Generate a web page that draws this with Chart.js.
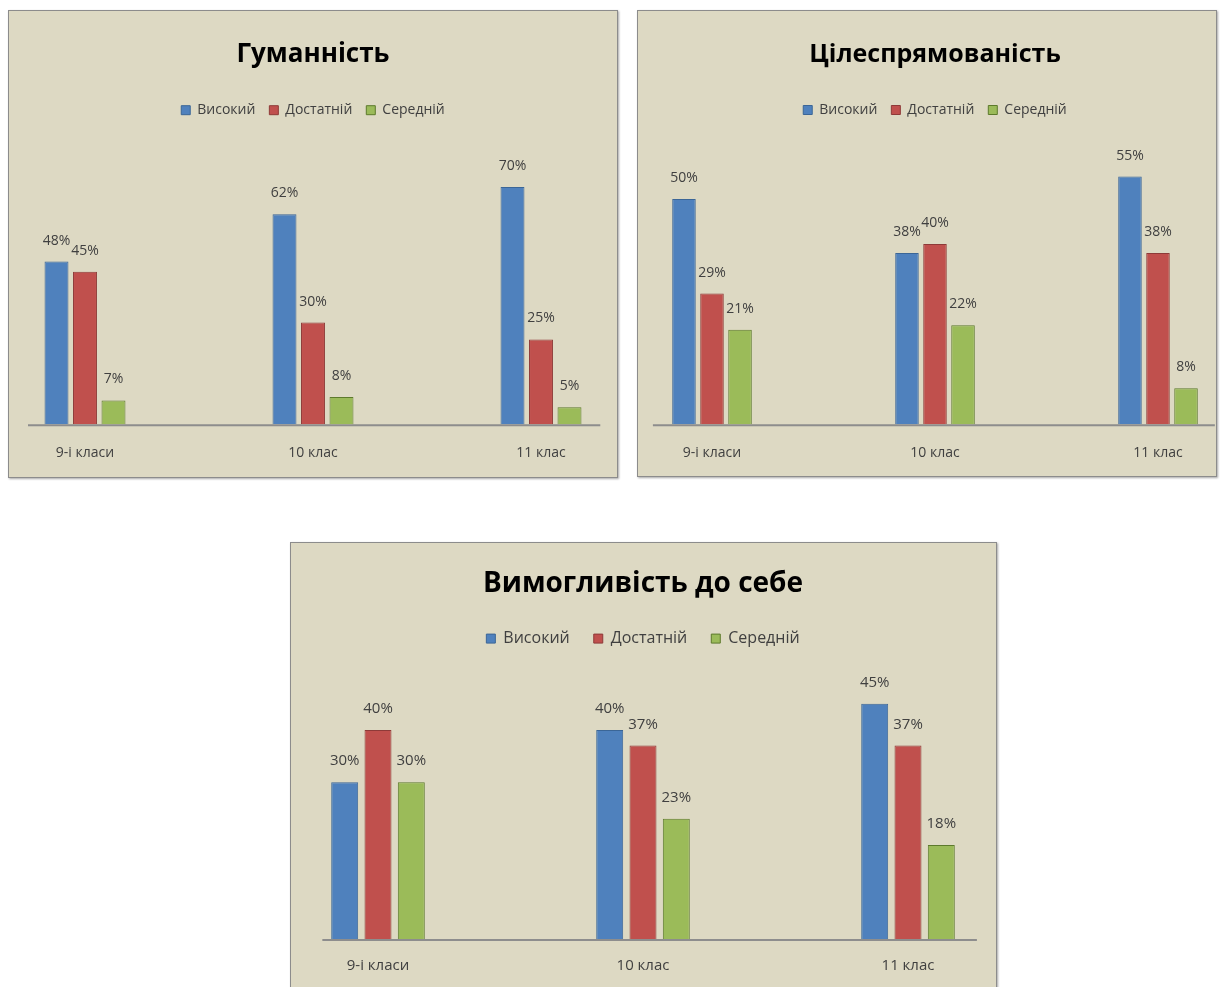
<!DOCTYPE html>
<html lang="uk">
<head>
<meta charset="utf-8">
<title>Гуманність, цілеспрямованість, вимогливість до себе</title>
<script src="https://cdn.jsdelivr.net/npm/chart.js@4"></script>
<style>
    html, body { margin: 0; padding: 0; background: #fff; width: 1220px; height: 987px; overflow: hidden; }
    body { position: relative; }
    .panel { position: absolute; background: #ddd9c3; border: 1px solid #8c8c8c; box-shadow: 1px 1px 2px rgba(0,0,0,0.35); }
    .panel canvas { display: block; }
    #p1 { left: 8px; top: 10px; width: 608px; height: 466px; }
    #p2 { left: 637px; top: 10px; width: 578px; height: 465px; }
    #p3 { left: 290px; top: 542px; width: 705px; height: 448px; }
</style>
</head>
<body>
<div class="panel" id="p1"><canvas id="chart1" width="608" height="466"></canvas></div>
<div class="panel" id="p2"><canvas id="chart2" width="578" height="465"></canvas></div>
<div class="panel" id="p3"><canvas id="chart3" width="705" height="448"></canvas></div>

<script>
// categories and series names
const categories = ['9-і класи', '10 клас', '11 клас'];
const seriesNames = ['Високий', 'Достатній', 'Середній'];

// Гуманність
const humanityHigh = [48, 62, 70];
const humanitySufficient = [45, 30, 25];
const humanityMedium = [7, 8, 5];

// Цілеспрямованість
const purposeHigh = [50, 38, 55];
const purposeSufficient = [29, 40, 38];
const purposeMedium = [21, 22, 8];

// Вимогливість до себе
const demandHigh = [30, 40, 45];
const demandSufficient = [40, 37, 37];
const demandMedium = [30, 23, 18];

const FONT = "'Open Sans', 'DejaVu Sans', sans-serif";
const TEXT = '#404040';

// extra space under the legend
const legendGap = {
    id: 'legendGap',
    beforeInit(chart, args, opts) {
        const origFit = chart.legend.fit;
        chart.legend.fit = function () {
            origFit.bind(chart.legend)();
            this.height += opts.gap || 0;
        };
    }
};

// horizontal category axis line, a bit wider than the outer categories
const baseLine = {
    id: 'baseLine',
    beforeDatasetsDraw(chart, args, opts) {
        const x = chart.scales.x, y = chart.scales.y;
        const step = x.getPixelForValue(1) - x.getPixelForValue(0);
        const py = y.getPixelForValue(0) + 1;
        const ctx = chart.ctx;
        ctx.save();
        ctx.strokeStyle = '#8d8d8d';
        ctx.lineWidth = 2;
        ctx.beginPath();
        ctx.moveTo(x.left - step * opts.left, py);
        ctx.lineTo(x.right + step * opts.right, py);
        ctx.stroke();
        ctx.restore();
    }
};

// percentage labels above the bars
const barValueLabels = {
    id: 'barValueLabels',
    afterDatasetsDraw(chart, args, opts) {
        const ctx = chart.ctx;
        ctx.save();
        ctx.font = opts.size + 'px ' + FONT;
        ctx.fillStyle = TEXT;
        ctx.textAlign = 'center';
        ctx.textBaseline = 'middle';
        chart.data.datasets.forEach((ds, i) => {
            chart.getDatasetMeta(i).data.forEach((bar, j) => {
                ctx.fillText(ds.data[j] + '%', bar.x, bar.y - opts.offset);
            });
        });
        ctx.restore();
    }
};

function buildChart(id, title, high, sufficient, medium, o) {
    const bar = { categoryPercentage: o.cat, barPercentage: o.bar, borderWidth: 1, clip: false };
    return new Chart(document.getElementById(id), {
        type: 'bar',
        data: {
            labels: categories,
            datasets: [
                Object.assign({ label: seriesNames[0], data: high, backgroundColor: '#4f81bd', borderColor: '#3b6697' }, bar),
                Object.assign({ label: seriesNames[1], data: sufficient, backgroundColor: '#c0504d', borderColor: '#8e3a38' }, bar),
                Object.assign({ label: seriesNames[2], data: medium, backgroundColor: '#9bbb59', borderColor: '#5d7a2c' }, bar)
            ]
        },
        options: {
            responsive: false,
            animation: false,
            layout: { padding: { left: o.padLeft, right: o.padRight, top: 0, bottom: o.padBottom } },
            scales: {
                x: {
                    offset: false,
                    grid: { display: false },
                    border: { display: false },
                    ticks: { color: TEXT, font: { family: FONT, size: o.tickSize }, padding: o.tickPad, maxRotation: 0 }
                },
                y: { display: false, min: 0, max: o.yMax }
            },
            plugins: {
                title: {
                    display: true,
                    text: title,
                    color: '#000',
                    font: { family: FONT, size: o.titleSize, weight: 'bold' },
                    padding: { top: o.titleTop, bottom: o.titleBottom }
                },
                legend: {
                    labels: {
                        color: TEXT,
                        font: { family: FONT, size: o.legendSize },
                        boxWidth: 9,
                        boxHeight: 9,
                        padding: o.legendPad
                    }
                },
                tooltip: { enabled: false },
                legendGap: { gap: o.legendGap },
                baseLine: { left: o.lineLeft, right: o.lineRight },
                barValueLabels: { size: o.labelSize, offset: 21 }
            }
        },
        plugins: [legendGap, baseLine, barValueLabels]
    });
}

buildChart('chart1', 'Гуманність', humanityHigh, humanitySufficient, humanityMedium, {
    cat: 0.375, bar: 0.84, yMax: 80,
    padLeft: 76, padRight: 76, padBottom: 4,
    titleSize: 26, titleTop: 28, titleBottom: 19,
    legendSize: 14, legendPad: 14, legendGap: 26, tickSize: 14, tickPad: 12, labelSize: 14,
    lineLeft: 0.25, lineRight: 0.26
});

buildChart('chart2', 'Цілеспрямованість', purposeHigh, purposeSufficient, purposeMedium, {
    cat: 0.377, bar: 0.84, yMax: 60,
    padLeft: 74, padRight: 58, padBottom: 3,
    titleSize: 25, titleTop: 29, titleBottom: 19,
    legendSize: 14, legendPad: 14, legendGap: 27, tickSize: 14, tickPad: 12, labelSize: 14,
    lineLeft: 0.265, lineRight: 0.255
});

buildChart('chart3', 'Вимогливість до себе', demandHigh, demandSufficient, demandMedium, {
    cat: 0.377, bar: 0.81, yMax: 50,
    padLeft: 87, padRight: 88, padBottom: 6,
    titleSize: 28, titleTop: 24, titleBottom: 6,
    legendSize: 16, legendPad: 24, legendGap: 21, tickSize: 15, tickPad: 10, labelSize: 15,
    lineLeft: 0.21, lineRight: 0.26
});
</script>
</body>
</html>
